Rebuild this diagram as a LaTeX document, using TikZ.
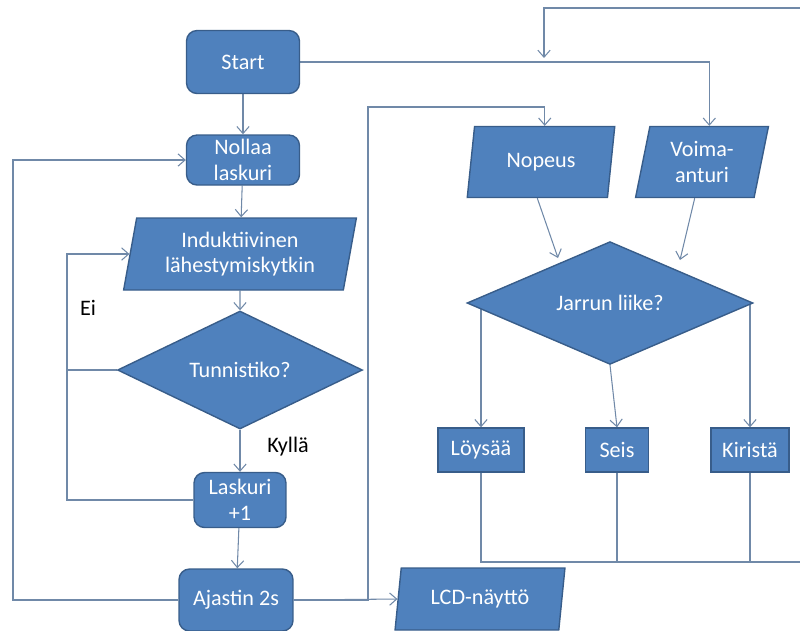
\documentclass[tikz,border=0pt]{standalone}
\usepackage{fontspec}
\setmainfont{Carlito}
\usetikzlibrary{shapes.geometric,arrows.meta}
\definecolor{boxblue}{RGB}{79,129,189}
\definecolor{boxedge}{RGB}{56,93,138}
\definecolor{linegray}{RGB}{112,137,168}
\pgfdeclarelayer{bg}
\pgfsetlayers{bg,main}

\begin{document}
\begin{tikzpicture}[x=0.02cm, y=-0.02cm,
  every node/.style={font=\fontsize{12.6}{14.6}\selectfont},
  blk/.style={draw=boxedge, fill=boxblue, thick, text=white, align=center, inner sep=0pt},
  rbox/.style={blk, rectangle, rounded corners=6pt},
  pbox/.style={blk, rectangle},
  iobox/.style={blk, trapezium, trapezium left angle=78, trapezium right angle=102, trapezium stretches=true},
  dbox/.style={blk, diamond},
  line/.style={draw=linegray, line width=0.6pt},
  arr/.style={line, -{Straight Barb[length=4pt,width=7pt]}}]
\useasboundingbox (0,0) rectangle (800,630);

\node[rbox, minimum width=2.26cm, minimum height=1.26cm] (start) at (243,62) {Start};
\node[rbox, minimum width=2.26cm, minimum height=1.0cm] (nollaa) at (243,160) {Nollaa\\laskuri};
\node[iobox, minimum width=4.66cm, minimum height=1.44cm] (induk) at (240,254) {Induktiivinen\\lähestymiskytkin};
\node[dbox, minimum width=4.9cm, minimum height=2.36cm] (tunn) at (240,370) {Tunnistiko?};
\node[rbox, minimum width=1.84cm, minimum height=1.1cm] (laskuri) at (240,500) {Laskuri\\+1};
\node[rbox, minimum width=2.28cm, minimum height=1.24cm] (ajastin) at (236,600) {Ajastin 2s};

\node[iobox, minimum width=2.96cm, minimum height=1.42cm] (nopeus) at (541,162) {Nopeus};
\node[iobox, minimum width=2.66cm, minimum height=1.42cm] (voima) at (702,162) {Voima-\\anturi};
\node[dbox, minimum width=5.72cm, minimum height=2.24cm] (jarrun) at (610,303) {Jarrun liike?};
\node[pbox, minimum width=1.72cm, minimum height=0.88cm] (loysaa) at (481,450) {Löysää};
\node[pbox, minimum width=1.26cm, minimum height=0.88cm] (seis) at (617,450) {Seis};
\node[pbox, minimum width=1.56cm, minimum height=0.88cm] (kirista) at (750,450) {Kiristä};
\node[iobox, minimum width=3.4cm, minimum height=1.24cm] (lcd) at (480,599) {LCD-näyttö};

\node (ei) at (88,308) {Ei};
\node (kylla) at (288,447) {Kyllä};

\coordinate (rtop) at (800,8);
\coordinate (sjoin) at (544,58);
\coordinate (rbot) at (800,562);
\coordinate (nj) at (558,258);
\coordinate (vj) at (680,260);

\begin{pgfonlayer}{bg}
\draw[arr] (start) -- (nollaa);
\draw[arr] (nollaa) -- (induk);
\draw[arr] (induk) -- (tunn);
\draw[arr] (tunn) -- (laskuri);
\draw[arr] (laskuri) -- (ajastin);
\draw[arr] (ajastin.west) -- (13,600) |- (nollaa.west);
\draw[line] (tunn.west) -- (67,370);
\draw[arr] (laskuri.west) -- (67,500) |- (induk.west);

\draw[arr] (start.east) -| (voima.top side);
\draw[arr] (rtop) -| (sjoin);
\draw[arr] (ajastin.east) -- (368,600) -- (368,107) -| (nopeus.top side);
\draw[arr] (ajastin.east) -- (lcd.west);

\draw[arr] (nopeus.bottom side) -- (nj);
\draw[arr] (voima.bottom side) -- (vj);
\draw[arr] (loysaa.north |- jarrun.center) -- (loysaa.north);
\draw[arr] (jarrun.south) -- (seis.north);
\draw[arr] (kirista.north |- jarrun.center) -- (kirista.north);

\draw[line] (loysaa.south) |- (rbot);
\draw[line] (seis.south) -- (seis.south |- rbot);
\draw[line] (kirista.south) -- (kirista.south |- rbot);
\end{pgfonlayer}
\end{tikzpicture}
\end{document}
